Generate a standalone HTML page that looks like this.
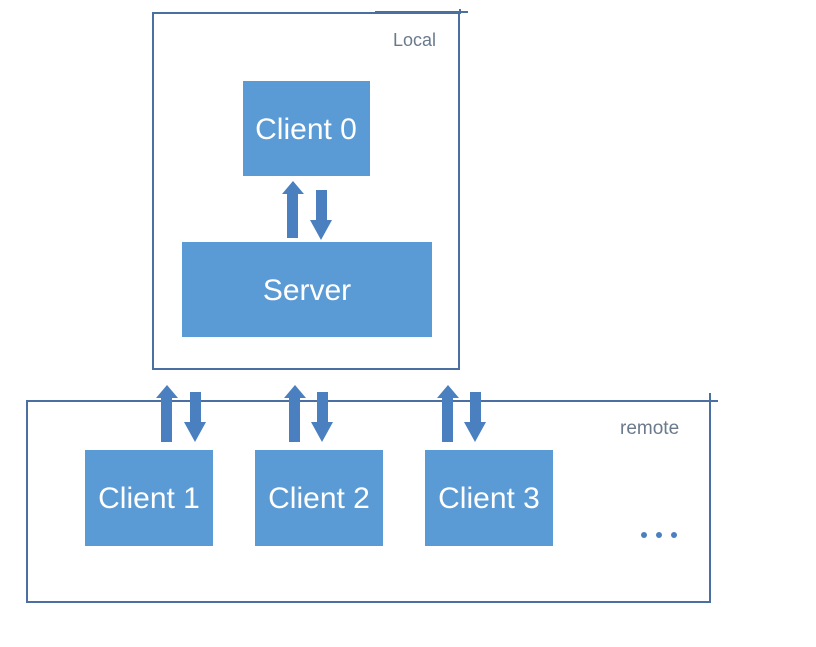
<!DOCTYPE html>
<html><head><style>
body{margin:0;width:816px;height:642px;background:#fff;overflow:hidden;font-family:"Liberation Sans",sans-serif}
</style></head><body>
<svg width="816" height="642" xmlns="http://www.w3.org/2000/svg">
<defs>
<g id="up"><polygon points="0,0 11,13 5,13 5,57 -6,57 -6,13 -11,13" fill="#4a80bf"/></g>
<g id="dn"><polygon points="-5,0 6,0 6,30 11,30 0,50 -11,30 -5,30" fill="#4a80bf"/></g>
</defs>
<g stroke="#4b6fa0" stroke-width="2" fill="none">
<rect x="153" y="13" width="306" height="356"/>
<line x1="375" y1="12" x2="468" y2="12"/>
<line x1="460" y1="9" x2="460" y2="14"/>
<rect x="27" y="401" width="683" height="201"/>
<line x1="700" y1="401" x2="718" y2="401"/>
<line x1="710" y1="393" x2="710" y2="401"/>
</g>
<g fill="#5b9bd5">
<rect x="243" y="81" width="127" height="95"/>
<rect x="182" y="242" width="250" height="95"/>
<rect x="85" y="450" width="128" height="96"/>
<rect x="255" y="450" width="128" height="96"/>
<rect x="425" y="450" width="128" height="96"/>
</g>
<use href="#up" x="293" y="181"/>
<use href="#dn" x="321" y="190"/>
<use href="#up" x="167" y="385"/>
<use href="#dn" x="195" y="392"/>
<use href="#up" x="295" y="385"/>
<use href="#dn" x="322" y="392"/>
<use href="#up" x="448" y="385"/>
<use href="#dn" x="475" y="392"/>
<g fill="#fff" font-size="30" text-anchor="middle" font-family="Liberation Sans, sans-serif">
<text x="306" y="139">Client 0</text>
<text x="307" y="300">Server</text>
<text x="149" y="508">Client 1</text>
<text x="319" y="508">Client 2</text>
<text x="489" y="508">Client 3</text>
</g>
<text x="393" y="46" font-size="18" fill="#6a7a8c">Local</text>
<text x="620" y="434" font-size="19" fill="#6a7a8c">remote</text>
<g fill="#4a80bf"><circle cx="644" cy="535" r="3"/><circle cx="659" cy="535" r="3"/><circle cx="674" cy="535" r="3"/></g>
</svg>
</body></html>
